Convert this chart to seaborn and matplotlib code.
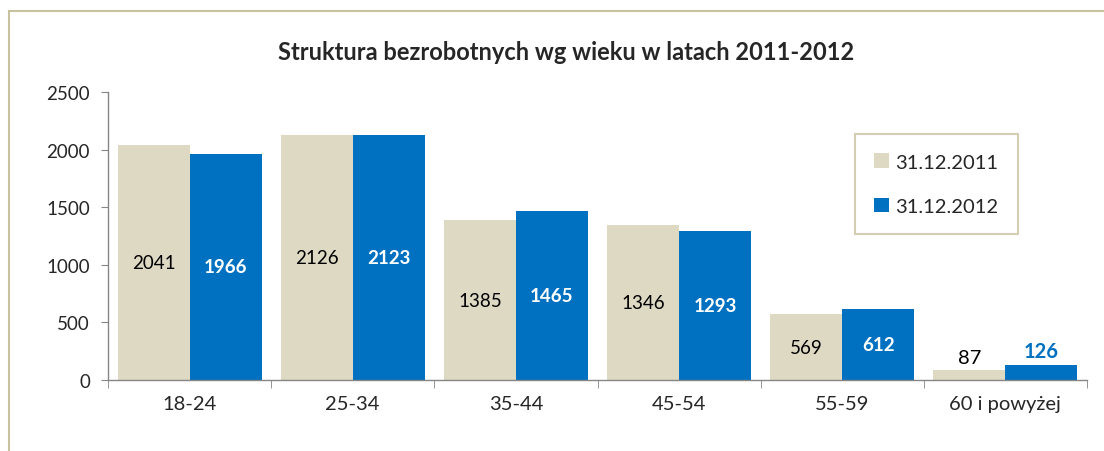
import pandas as pd
import seaborn as sns
import matplotlib
matplotlib.use('Agg')
import matplotlib.pyplot as plt
from matplotlib.patches import Rectangle

# dane
grupy = ['18-24', '25-34', '35-44', '45-54', '55-59', '60 i powyżej']
lata = ['31.12.2011', '31.12.2012']
v2011 = [2041, 2126, 1385, 1346, 569, 87]
v2012 = [1966, 2123, 1465, 1293, 612, 126]

beige = '#DDD9C3'
blue = '#0070C0'
ramka = '#C9C29E'

df = pd.DataFrame({
    'wiek': grupy * 2,
    'rok': [lata[0]] * len(grupy) + [lata[1]] * len(grupy),
    'liczba': v2011 + v2012,
})

sns.set_style('white')
plt.rcParams['font.family'] = ['Lato', 'DejaVu Sans']

fig = plt.figure(figsize=(11.04, 4.52), dpi=100)
ax = fig.add_axes([108 / 1104, 1 - 381 / 452, (1087 - 108) / 1104, (381 - 93) / 452])

sns.barplot(data=df, x='wiek', y='liczba', hue='rok', order=grupy, hue_order=lata,
            palette=[beige, blue], width=0.883, gap=0, saturation=1, ax=ax,
            edgecolor='none', legend=True)

ax.set_ylim(0, 2500)
ax.set_xlim(-0.5, 5.5)
ax.set_yticks(range(0, 2501, 500))
ax.set_xlabel('')
ax.set_ylabel('')
ax.tick_params(axis='y', labelsize=13.5, length=5, color='#868686', left=True, pad=8)
ax.set_xticks(range(len(grupy)))
ax.set_xticklabels(grupy, fontsize=14.5)
ax.tick_params(axis='x', which='major', length=0, pad=11)
ax.set_xticks([i - 0.5 for i in range(len(grupy) + 1)], minor=True)
ax.tick_params(axis='x', which='minor', length=6, color='#868686', bottom=True)
for s in ['top', 'right']:
    ax.spines[s].set_visible(False)
for s in ['left', 'bottom']:
    ax.spines[s].set_color('#868686')
    ax.spines[s].set_linewidth(1)

# etykiety
for cont, kol, waga in zip(ax.containers, ['black', 'white'], ['normal', 'bold']):
    for bar, v in zip(cont, cont.datavalues):
        x = bar.get_x() + bar.get_width() / 2
        if v > 300:
            ax.text(x, v / 2, f'{int(v)}', ha='center', va='center', color=kol,
                    fontweight=waga, fontsize=13.5)
        else:
            ax.text(x, v + 35, f'{int(v)}', ha='center', va='bottom',
                    color=blue if kol == 'white' else 'black', fontweight=waga, fontsize=14.5)

leg = ax.legend(loc='upper left', bbox_to_anchor=((855 - 108) / 979, 1 - (135 - 93) / 288),
                frameon=True, fancybox=False, fontsize=14.5, handlelength=0.75, handleheight=0.75,
                labelspacing=1.35, borderpad=0.95, handletextpad=0.3, borderaxespad=0)
leg.get_frame().set_edgecolor(ramka)
leg.get_frame().set_linewidth(1.5)

fig.text(566 / 1104, 1 - 52 / 452, 'Struktura bezrobotnych wg wieku w latach 2011-2012',
         ha='center', va='center', fontsize=17, fontweight='bold')

fig.patches.append(Rectangle((9 / 1104, -0.1), 1.2, 1.1 - 12 / 452, transform=fig.transFigure,
                             fill=False, edgecolor=ramka, linewidth=1.5, clip_on=False))

fig.savefig('out.png', dpi=100)
